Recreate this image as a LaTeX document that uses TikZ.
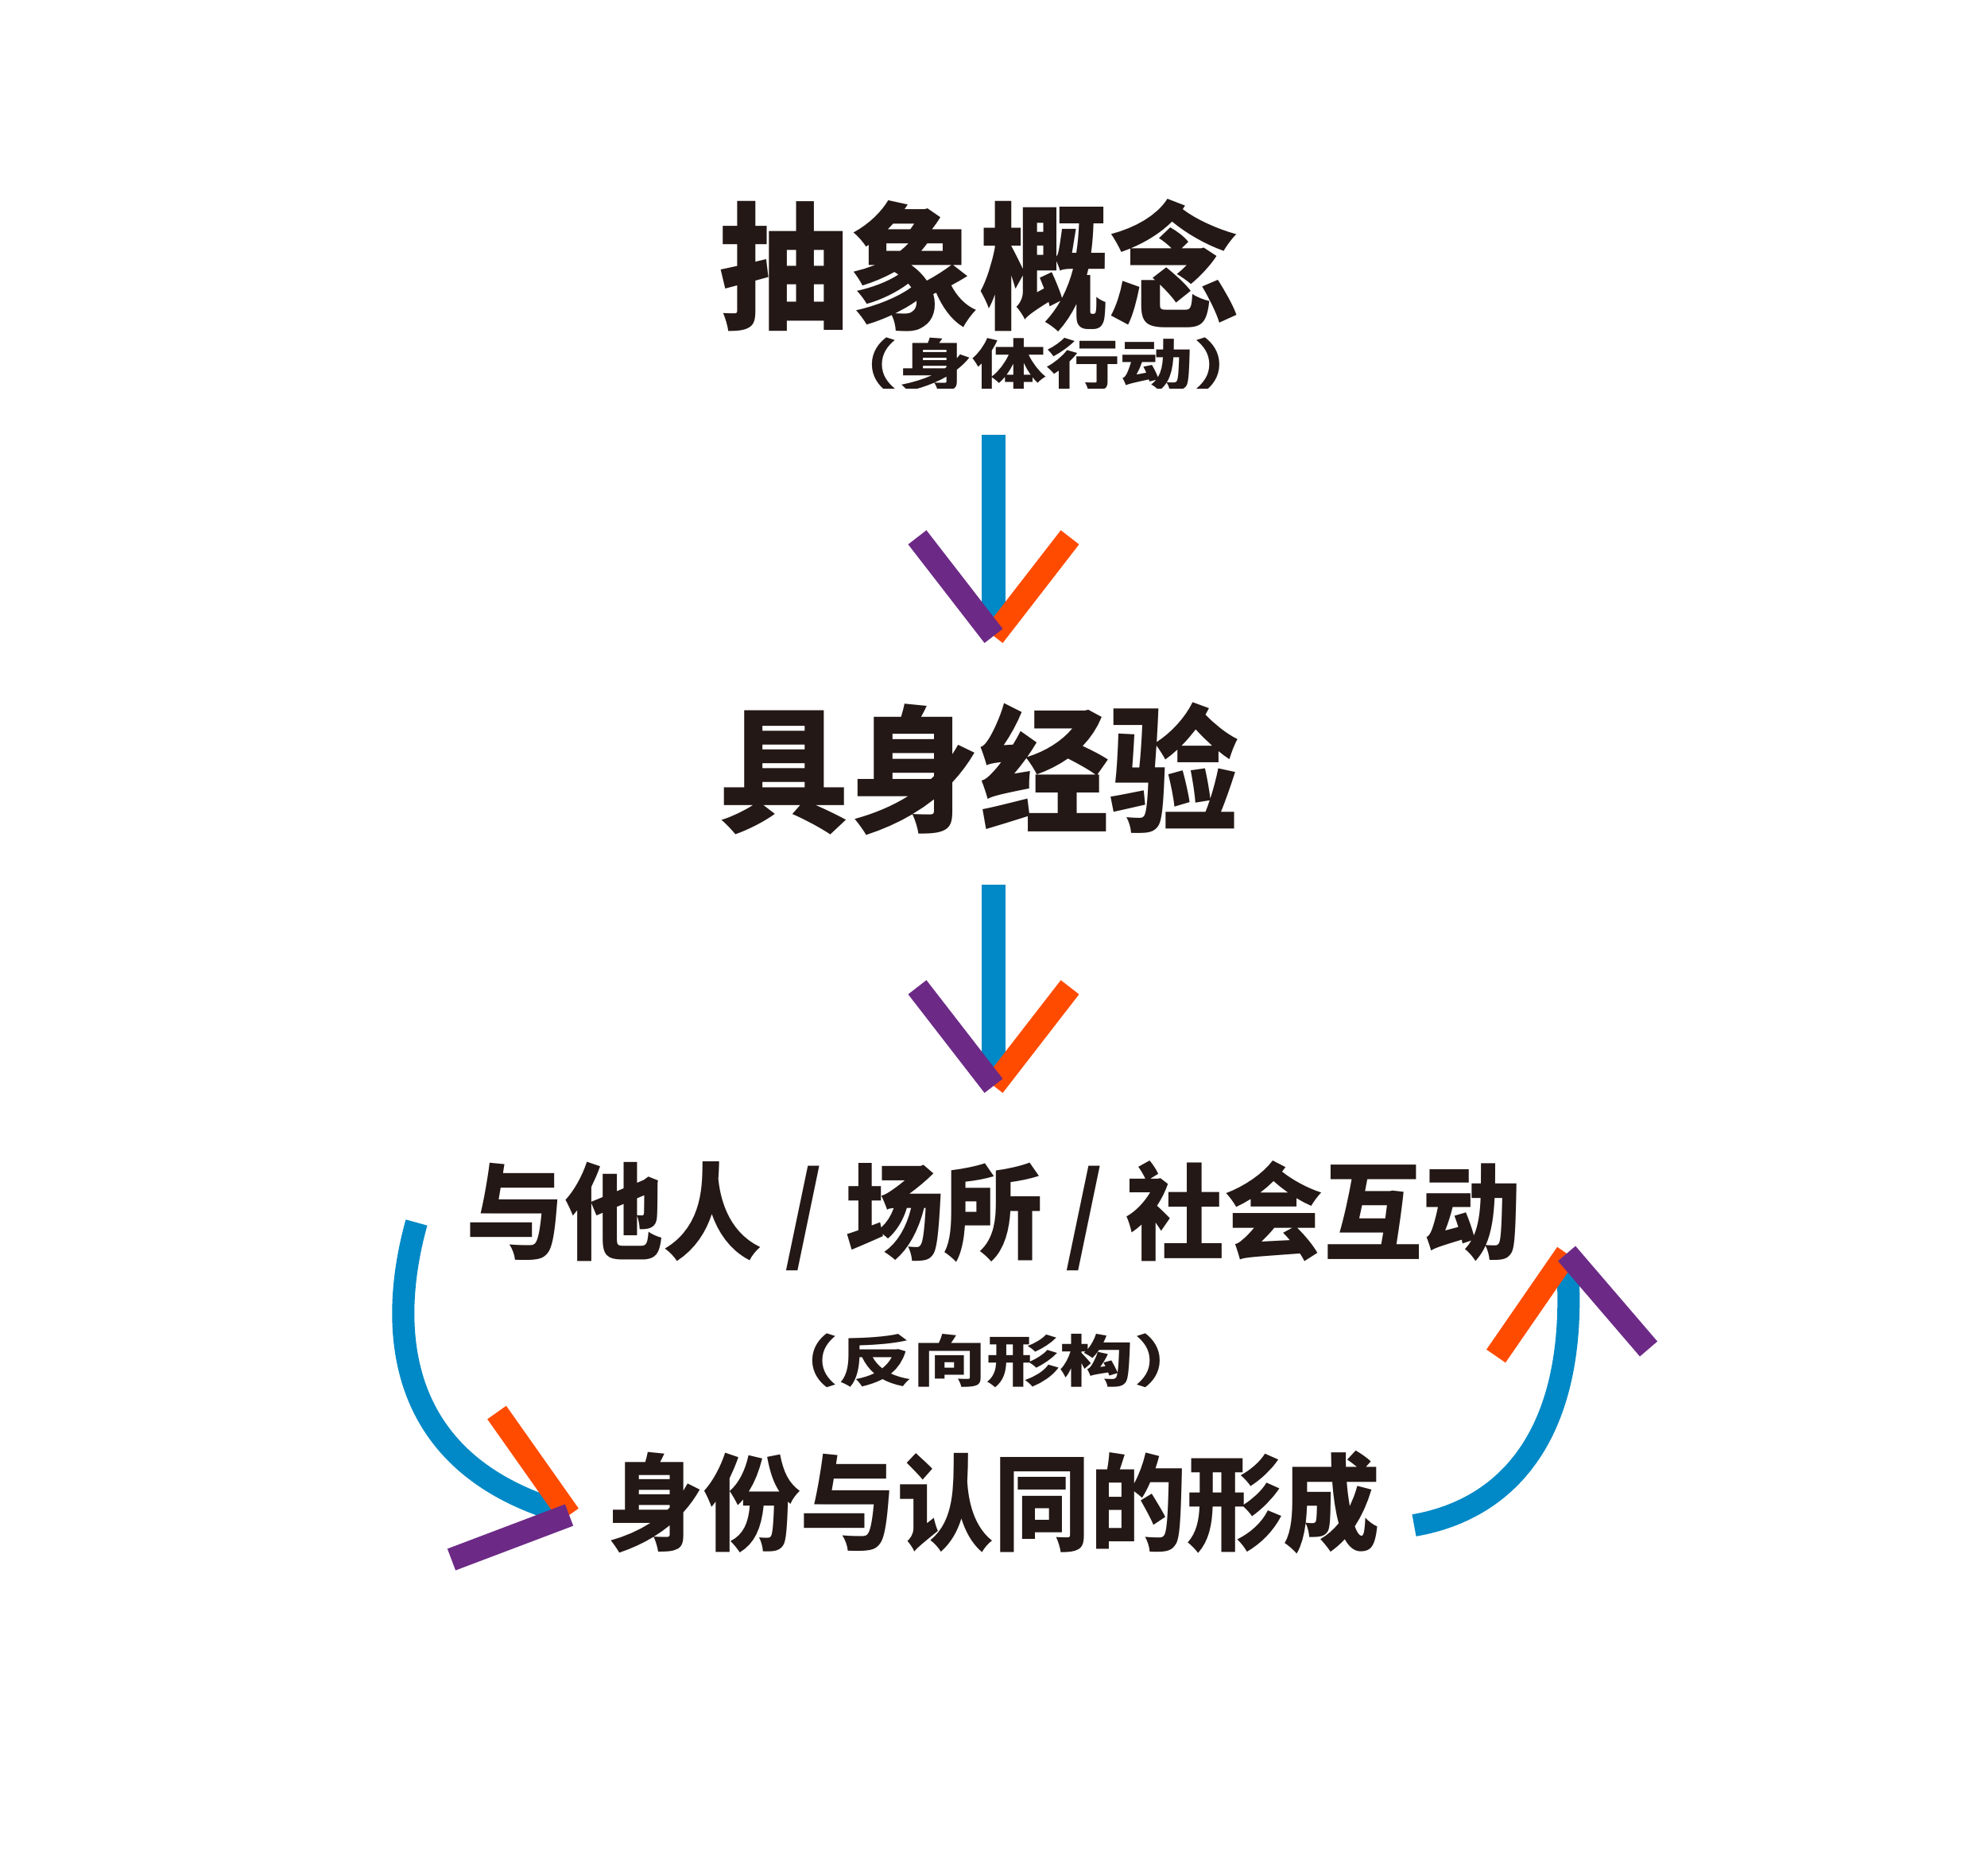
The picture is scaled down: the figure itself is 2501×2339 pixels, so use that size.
\documentclass[tikz,border=0pt]{standalone}
\usepackage{fontspec}
\newfontfamily\cjkT[FakeStretch=0.95]{Noto Sans CJK SC}
\newfontfamily\cjkM[FakeStretch=0.94]{Noto Sans CJK SC}
\newfontfamily\cjkB[FakeStretch=0.92]{Noto Sans CJK SC}
\newfontfamily\cjkS[FakeStretch=1.32]{Noto Sans CJK SC}
\definecolor{ablue}{HTML}{0089C6}
\definecolor{aorange}{HTML}{FF4B00}
\definecolor{apurple}{HTML}{6C2A86}
\definecolor{ink}{HTML}{231815}
\begin{document}
\begin{tikzpicture}[x=0.1mm,y=-0.1mm,
  txt/.style={inner sep=0pt, text=ink},
  titletxt/.style={txt, font=\cjkT\bfseries\fontsize{49pt}{58pt}\selectfont},
  midtxt/.style={txt, font=\cjkM\bfseries\fontsize{37.6pt}{45pt}\selectfont},
  bottxt/.style={txt, font=\cjkB\bfseries\fontsize{37.6pt}{45pt}\selectfont},
  subtxt/.style={txt, font=\cjkS\bfseries\fontsize{20pt}{24pt}\selectfont},
  shaft/.style={draw=ablue, line width=3mm},
  barL/.style={draw=apurple, line width=2.9mm},
  barR/.style={draw=aorange, line width=2.9mm}]
\fill[white] (0,0) rectangle (2501,2339);
\useasboundingbox (0,0) rectangle (2501,2339);

\node[titletxt] (abs) at (1232,334) {抽象概念};
\begin{scope}
\clip (0,0) rectangle (2501,488);
\node[subtxt] (abssub) at (1316,459) {（身体行动）};
\end{scope}
\node[titletxt] (emb) at (1232,967) {具身经验};
\node[midtxt] (inter) at (1250,1530) {与他人 / 场所 / 社会互动};
\node[subtxt] (rev) at (1241,1712) {（反向形构）};
\node[bottxt] (ident) at (1250,1890) {身份与认同的形成};

% arrow 1
\coordinate (a1s) at (1250,547);
\coordinate (a1t) at (1250,800);
\draw[shaft] (a1s) -- (1250,790);
\draw[barR] (1346,676) -- (a1t);
\draw[barL] (1154,676) -- (a1t);

% arrow 2
\coordinate (a2s) at (1250,1113);
\coordinate (a2t) at (1250,1366);
\draw[shaft] (a2s) -- (1250,1356);
\draw[barR] (1346,1242) -- (a2t);
\draw[barL] (1154,1242) -- (a2t);

% left curved arrow
\coordinate (lcs) at (524,1538);
\coordinate (lct) at (716,1906);
\draw[shaft, line width=2.8mm] (lcs) .. controls (490,1660) and (490,1835) .. (700,1900);
\draw[barR] (625,1777) -- (lct);
\draw[barL] (568,1962) -- (lct);

% right curved arrow
\coordinate (rcs) at (1779,1919);
\coordinate (rct) at (1971,1577);
\draw[shaft, line width=2.8mm] (rcs) .. controls (1900,1898) and (1985,1800) .. (1972,1595);
\draw[barR] (1882,1706) -- (rct);
\draw[barL] (2074,1697) -- (rct);
\end{tikzpicture}
\end{document}
